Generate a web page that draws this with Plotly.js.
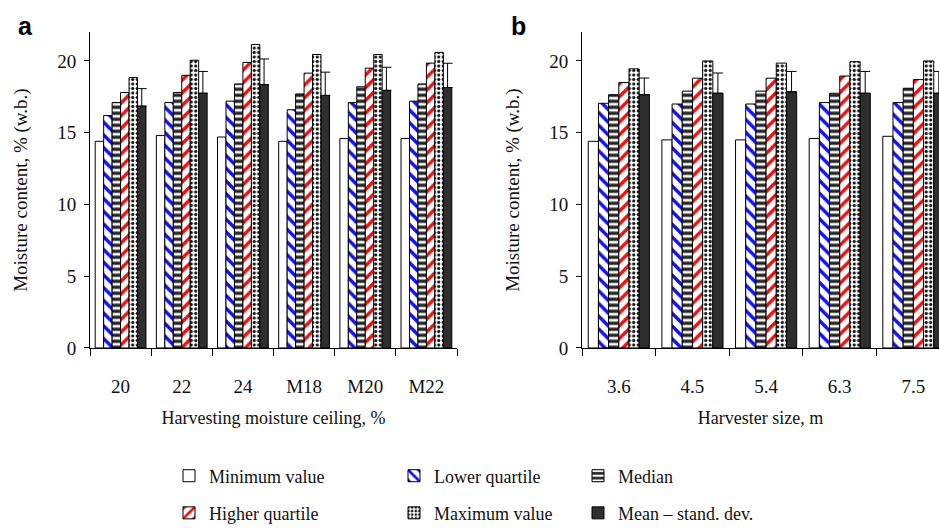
<!DOCTYPE html>
<html>
<head>
<meta charset="utf-8">
<script src="https://cdn.plot.ly/plotly-3.0.1.min.js"></script>
<style>html,body{margin:0;padding:0;overflow:hidden;background:#fff}#chart{width:939px;height:532px}</style>
</head>
<body>
<div id="chart"></div>
<script>
// Panel a: harvesting moisture ceiling
const catsA = ['20', '22', '24', 'M18', 'M20', 'M22'];
const minA  = [14.4, 14.8, 14.7, 14.4, 14.6, 14.6];
const lqA   = [16.2, 17.1, 17.2, 16.6, 17.1, 17.2];
const medA  = [17.1, 17.8, 18.4, 17.7, 18.2, 18.4];
const hqA   = [17.8, 19.0, 19.9, 19.15, 19.5, 19.85];
const maxA  = [18.85, 20.05, 21.15, 20.45, 20.45, 20.6];
const meanA = [16.85, 17.75, 18.35, 17.6, 17.95, 18.15];
const sdA   = [1.22, 1.52, 1.79, 1.62, 1.61, 1.69];

// Panel b: harvester size
const catsB = ['3.6', '4.5', '5.4', '6.3', '7.5'];
const minB  = [14.4, 14.5, 14.5, 14.6, 14.75];
const lqB   = [17.05, 17.0, 17.0, 17.1, 17.1];
const medB  = [17.65, 17.9, 17.9, 17.75, 18.1];
const hqB   = [18.5, 18.8, 18.8, 18.95, 18.7];
const maxB  = [19.45, 20.0, 19.85, 19.95, 20.0];
const meanB = [17.65, 17.75, 17.85, 17.75, 17.75];
const sdB   = [1.16, 1.41, 1.42, 1.52, 1.52];

const seriesNames = ['Minimum value', 'Lower quartile', 'Median', 'Higher quartile', 'Maximum value', 'Mean \u2013 stand. dev.'];

const W = 939, H = 532;
const serif = 'Liberation Serif, Times New Roman, serif';

const styles = [
  {color: '#ffffff'},
  {color: '#ffffff', pattern: {shape: '\\', fgcolor: '#1010ee', bgcolor: '#ffffff', size: 9, solidity: 0.38}},
  {color: '#ffffff', pattern: {shape: '-', fgcolor: '#222222', bgcolor: '#ffffff', size: 6, solidity: 0.55}},
  {color: '#ffffff', pattern: {shape: '/', fgcolor: '#ee1010', bgcolor: '#ffffff', size: 9, solidity: 0.38}},
  {color: '#ffffff', pattern: {shape: '.', fgcolor: '#111111', bgcolor: '#ffffff', size: 4.5, solidity: 0.4}},
  {color: '#2e2e2e'}
];

function makeTraces(cats, vals, sd, xa, ya, showLegend) {
  return vals.map((v, i) => {
    const t = {
      type: 'bar', x: cats, y: v, name: seriesNames[i],
      xaxis: xa, yaxis: ya,
      marker: Object.assign({line: {color: '#000', width: 1}}, styles[i]),
      showlegend: showLegend,
      legend: i === 0 ? 'legend' : 'legend' + (i + 1),
      hoverinfo: 'x+y+name'
    };
    if (i === 5) {
      t.error_y = {type: 'data', array: sd, arrayminus: sd.map(() => 0), symmetric: false,
                   color: '#000', thickness: 1, width: 5};
    }
    return t;
  });
}

const data = [].concat(
  makeTraces(catsA, [minA, lqA, medA, hqA, maxA, meanA], sdA, 'x', 'y', true),
  makeTraces(catsB, [minB, lqB, medB, hqB, maxB, meanB], sdB, 'x2', 'y2', false)
);

const yTop = 33, yBot = 356;
const yDomain = [1 - yBot / H, 1 - yTop / H];

function yAxis(anchor) {
  return {
    anchor: anchor, domain: yDomain, range: [0, 22], tickvals: [0, 5, 10, 15, 20],
    showline: true, linecolor: '#000', linewidth: 1, ticks: 'outside', ticklen: 5, tickcolor: '#000',
    showgrid: false, zeroline: false, ticklabelstandoff: 4,
    tickfont: {family: serif, size: 19, color: '#111'},
    title: {text: 'Moisture content, % (w.b.)', font: {family: serif, size: 19, color: '#111'}, standoff: 24}
  };
}
function xAxis(anchor, domain, range, title) {
  return {
    anchor: anchor, domain: domain, type: 'category', range: range,
    showline: true, linecolor: '#000', linewidth: 1, ticks: 'outside', ticklen: 7, tickcolor: '#000',
    tickson: 'boundaries', showgrid: false, ticklabelstandoff: 21,
    tickfont: {family: serif, size: 19, color: '#111'},
    title: {text: title, font: {family: serif, size: 18, color: '#111'}, standoff: 15}
  };
}

function leg(px, py) {
  return {x: px / W, y: 1 - py / H, xanchor: 'left', yanchor: 'middle', bgcolor: 'rgba(0,0,0,0)',
          font: {family: serif, size: 18, color: '#111'}, itemwidth: 30, borderwidth: 0};
}

const layout = {
  width: W, height: H,
  margin: {l: 0, r: 0, t: 0, b: 0},
  paper_bgcolor: '#fff', plot_bgcolor: 'rgba(0,0,0,0)',
  barmode: 'group', bargap: 0.17, bargroupgap: 0,
  font: {family: serif, color: '#111'},
  xaxis: xAxis('y', [90 / W, 457 / W], [-0.5, 5.5], 'Harvesting moisture ceiling, %'),
  yaxis: yAxis('x'),
  xaxis2: xAxis('y2', [582 / W, 1], [-0.5, 4.348], 'Harvester size, m'),
  yaxis2: yAxis('x2'),
  legend: leg(169, 487),
  legend2: leg(394, 487),
  legend3: leg(578, 487),
  legend4: leg(169, 525),
  legend5: leg(394, 525),
  legend6: leg(578, 525),
  annotations: [
    {text: '<b>a</b>', xref: 'paper', yref: 'paper', x: 16 / W, y: 1 - 10 / H, xanchor: 'left', yanchor: 'top',
     showarrow: false, font: {family: 'Liberation Sans, Arial, sans-serif', size: 25, color: '#000'}},
    {text: '<b>b</b>', xref: 'paper', yref: 'paper', x: 509 / W, y: 1 - 10 / H, xanchor: 'left', yanchor: 'top',
     showarrow: false, font: {family: 'Liberation Sans, Arial, sans-serif', size: 25, color: '#000'}}
  ]
};

Plotly.newPlot('chart', data, layout, {displayModeBar: false, staticPlot: true});
</script>
</body>
</html>
